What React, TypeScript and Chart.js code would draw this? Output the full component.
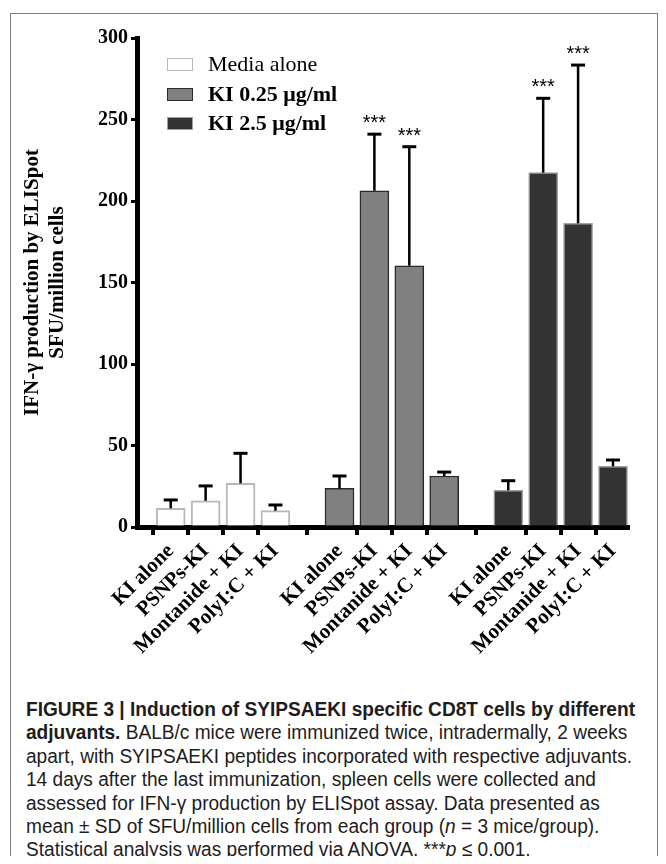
import React, { useEffect, useRef } from "react";
import { Chart, registerables } from "chart.js";

Chart.register(...registerables);

// ---- data ----
const CATEGORIES = ["KI alone", "PSNPs-KI", "Montanide + KI", "PolyI:C + KI"];
const SERIES = ["Media alone", "KI 0.25 μg/ml", "KI 2.5 μg/ml"];
const MEDIA_MEAN = [11.5, 16.1, 26.8, 10.0];
const MEDIA_SD = [5.1, 9.1, 18.4, 3.5];
const KI025_MEAN = [23.7, 206.3, 160.3, 31.3];
const KI025_SD = [7.6, 34.7, 73.0, 2.4];
const KI25_MEAN = [22.5, 217.4, 186.3, 37.2];
const KI25_SD = [5.9, 45.6, 97.1, 3.9];
const MEDIA_SIG = ["", "", "", ""];
const KI025_SIG = ["", "***", "***", ""];
const KI25_SIG = ["", "***", "***", ""];
const Y_TICKS = [0, 50, 100, 150, 200, 250, 300];

const MEANS = [MEDIA_MEAN, KI025_MEAN, KI25_MEAN];
const SDS = [MEDIA_SD, KI025_SD, KI25_SD];
const SIGS = [MEDIA_SIG, KI025_SIG, KI25_SIG];

// ---- styles / layout ----
const FILLS = ["#ffffff", "#808080", "#333333"];
const BORDERS = ["#b8b8b8", "#2a2a2a", "#a0a0a0"];
const BORDER_W = [2, 1.5, 1.5];
const GROUP_GAP = 0.835;
const SERIF = "'Liberation Serif', 'Times New Roman', serif";
const SANS = "'Liberation Sans', Arial, sans-serif";
const LEGEND_Y = [56, 86, 115];

const slot = (s: number, i: number) => s * (CATEGORIES.length + GROUP_GAP) + i;
const POSITIONS: number[] = [];
const TICK_LABELS: string[] = [];
SERIES.forEach((_, s) =>
  CATEGORIES.forEach((c, i) => {
    POSITIONS.push(slot(s, i));
    TICK_LABELS.push(c);
  })
);

const errorPlugin = {
  id: "errorBars",
  afterDatasetsDraw(chart: any) {
    const ctx = chart.ctx;
    const ys = chart.scales.y;
    chart.data.datasets.forEach((_: any, di: number) => {
      const meta = chart.getDatasetMeta(di);
      meta.data.forEach((bar: any, i: number) => {
        const mean = MEANS[di][i];
        const sd = SDS[di][i];
        const x = bar.x;
        const yBar = ys.getPixelForValue(mean);
        const yTop = ys.getPixelForValue(mean + sd);
        ctx.save();
        ctx.strokeStyle = "#000";
        ctx.lineWidth = 2.5;
        ctx.beginPath();
        ctx.moveTo(x, yBar);
        ctx.lineTo(x, yTop);
        ctx.stroke();
        ctx.lineWidth = 3;
        ctx.beginPath();
        ctx.moveTo(x - 7, yTop);
        ctx.lineTo(x + 7, yTop);
        ctx.stroke();
        const sig = SIGS[di][i];
        if (sig) {
          ctx.fillStyle = "#000";
          ctx.font = `20px ${SANS}`;
          ctx.textAlign = "center";
          ctx.textBaseline = "alphabetic";
          ctx.fillText(sig, x, yTop - 5);
        }
        ctx.restore();
      });
    });
  },
};

export default function App() {
  const ref = useRef<HTMLCanvasElement | null>(null);
  const capRef = useRef<HTMLDivElement | null>(null);
  const widestRef = useRef<HTMLSpanElement | null>(null);

  useEffect(() => {
    if (!ref.current) return;
    const chart = new Chart(ref.current, {
      type: "bar",
      data: {
        datasets: SERIES.map((name, s) => ({
          label: name,
          data: MEANS[s].map((v, i) => ({ x: slot(s, i), y: v })),
          backgroundColor: FILLS[s],
          borderColor: BORDERS[s],
          borderWidth: BORDER_W[s],
          barThickness: 29,
          grouped: false,
        })),
      },
      options: {
        animation: false,
        responsive: false,
        maintainAspectRatio: false,
        layout: { padding: { top: 30, right: 30, left: 0, bottom: 0 } },
        plugins: { legend: { display: false }, tooltip: { enabled: false } },
        scales: {
          x: {
            type: "linear",
            offset: false,
            min: -0.966,
            max: 13.1,
            z: 1,
            afterBuildTicks: (s: any) => {
              s.ticks = POSITIONS.map((v) => ({ value: v }));
            },
            afterFit: (s: any) => {
              s.height = 146;
            },
            ticks: {
              autoSkip: false,
              minRotation: 45,
              maxRotation: 45,
              padding: 4,
              color: "#000",
              font: { family: SERIF, size: 21, weight: "bold" },
              callback: (_v: any, i: number) => TICK_LABELS[i],
            },
            grid: {
              drawOnChartArea: false,
              drawTicks: true,
              tickLength: 8,
              color: "#000",
              lineWidth: 4,
            },
            border: { display: true, color: "#000", width: 5 },
          },
          y: {
            min: 0,
            max: 300,
            afterBuildTicks: (s: any) => {
              s.ticks = Y_TICKS.map((v) => ({ value: v }));
            },
            afterFit: (s: any) => {
              s.width = 129;
            },
            ticks: {
              padding: 3,
              color: "#000",
              font: { family: SERIF, size: 20, weight: "bold" },
            },
            grid: {
              drawOnChartArea: false,
              tickLength: 6,
              color: "#000",
              lineWidth: 3,
            },
            border: { display: true, color: "#000", width: 5 },
            title: {
              display: true,
              text: ["IFN-γ production by ELISpot", "SFU/million cells"],
              color: "#000",
              font: { family: SERIF, size: 21, weight: "bold", lineHeight: 1.2 },
              padding: { top: 12, bottom: 0 },
            },
          },
        },
      },
      plugins: [errorPlugin],
    } as any);
    return () => chart.destroy();
  }, []);

  useEffect(() => {
    const fit = () => {
      if (!capRef.current || !widestRef.current) return;
      capRef.current.style.transform = "none";
      const w = widestRef.current.getBoundingClientRect().width;
      if (w > 0) capRef.current.style.transform = `scaleX(${606 / w})`;
    };
    fit();
    const f: any = (document as any).fonts;
    if (f && f.ready) f.ready.then(fit);
  }, []);

  const captionLine: React.CSSProperties = { whiteSpace: "nowrap", height: 23.4, lineHeight: "23.4px" };

  return (
    <div
      style={{
        position: "relative",
        width: 650,
        height: 856,
        marginBottom: -8,
        overflow: "hidden",
      }}
    >
      <div
        style={{
          position: "absolute",
          left: 2,
          top: 5,
          width: 648,
          height: 900,
          border: "1px solid #808080",
          boxSizing: "border-box",
        }}
      />
      <canvas
        ref={ref}
        width={650}
        height={665}
        style={{ position: "absolute", left: 0, top: 0, width: 650, height: 665 }}
      />
      {SERIES.map((name, s) => (
        <React.Fragment key={name}>
          <div
            style={{
              position: "absolute",
              left: 159,
              top: LEGEND_Y[s] - 6.5,
              width: 26,
              height: 13,
              background: FILLS[s],
              border: `1.5px solid ${BORDERS[s]}`,
              boxSizing: "border-box",
            }}
          />
          <div
            style={{
              position: "absolute",
              left: 200,
              top: LEGEND_Y[s] - 13,
              height: 26,
              lineHeight: "26px",
              fontFamily: SERIF,
              fontSize: 22,
              fontWeight: s === 0 ? "normal" : "bold",
              color: "#000",
              whiteSpace: "nowrap",
            }}
          >
            {name}
          </div>
        </React.Fragment>
      ))}
      <div
        ref={capRef}
        style={{
          position: "absolute",
          left: 18,
          top: 690,
          fontFamily: SANS,
          fontSize: 20,
          color: "#1e1c1d",
          transformOrigin: "left top",
        }}
      >
        <div style={{ ...captionLine, fontWeight: "bold" }}>
          FIGURE 3 | Induction of SYIPSAEKI specific CD8T cells by different
        </div>
        <div style={captionLine}>
          <b>adjuvants.</b> BALB/c mice were immunized twice, intradermally, 2 weeks
        </div>
        <div style={captionLine}>
          <span ref={widestRef}>apart, with SYIPSAEKI peptides incorporated with respective adjuvants.</span>
        </div>
        <div style={captionLine}>14 days after the last immunization, spleen cells were collected and</div>
        <div style={captionLine}>assessed for IFN-γ production by ELISpot assay. Data presented as</div>
        <div style={captionLine}>
          mean ± SD of SFU/million cells from each group (<i>n</i> = 3 mice/group).
        </div>
        <div style={captionLine}>
          Statistical analysis was performed via ANOVA, ***<i>p</i> ≤ 0.001.
        </div>
      </div>
    </div>
  );
}
